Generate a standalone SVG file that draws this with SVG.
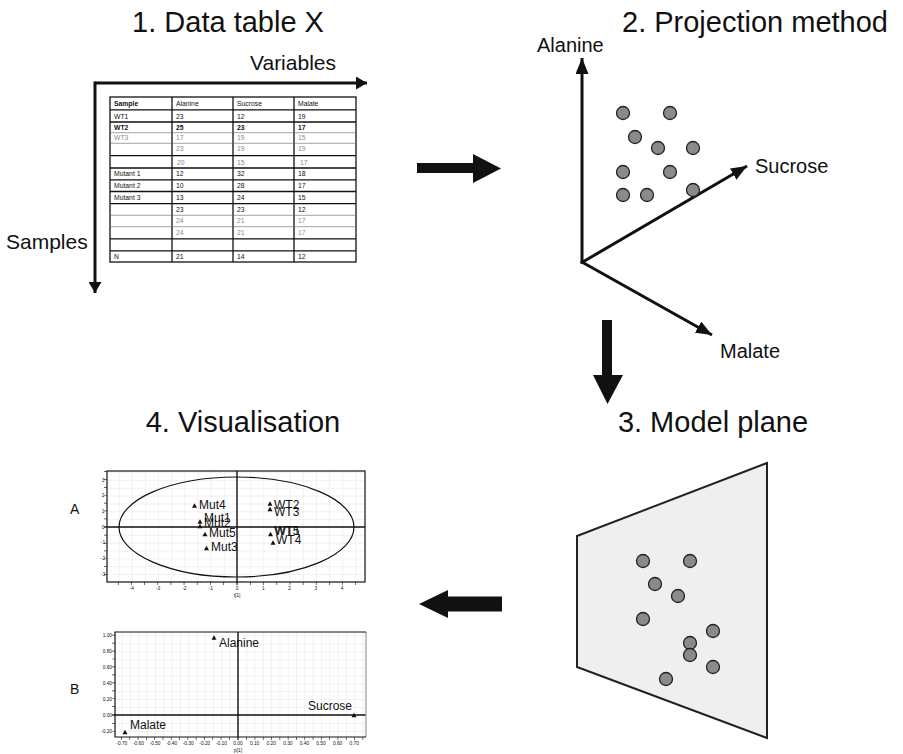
<svg xmlns="http://www.w3.org/2000/svg" xmlns:xlink="http://www.w3.org/1999/xlink" width="903" height="754" viewBox="0 0 903 754">
  <style>
    text { font-family: "Liberation Sans", Arial, sans-serif; fill: #111; }
    .title { font-size: 29px; text-anchor: middle; }
    .axlab { font-size: 20px; }
    .axbig { font-size: 21px; }
    .cell { font-size: 6.8px; }
    .dim { fill: #8a8a8a; }
    .hdr { font-weight: bold; }
    .bold { font-weight: bold; }
    .tbl { stroke: #111; stroke-width: 1.3; fill: none; }
    .thin { stroke: #666; stroke-width: 0.6; }
    .dot { fill: #8a8a8a; stroke: #222; stroke-width: 1.3; }
    .axis3d { stroke: #111; stroke-width: 3; fill: none; }
    .big { fill: #111; }
    .tick { font-size: 4.8px; fill: #666; }
    .pt { font-size: 12px; }
    .frame { fill: none; stroke: #111; stroke-width: 1.2; }
    .zero { stroke: #111; stroke-width: 1.4; }
  </style>
  <defs>
    <marker id="head" viewBox="0 0 16 13" refX="16" refY="6.5" markerWidth="16" markerHeight="13" markerUnits="userSpaceOnUse" orient="auto">
      <path d="M0,0 L16,6.5 L0,13 z" fill="#111"/>
    </marker>
    <marker id="headS" viewBox="0 0 11 13" refX="11" refY="6.5" markerWidth="11" markerHeight="13" markerUnits="userSpaceOnUse" orient="auto">
      <path d="M0,0 L11,6.5 L0,13 z" fill="#111"/>
    </marker>
    <pattern id="gridA" patternUnits="userSpaceOnUse" x="237" y="527" width="13.15" height="7.85">
      <path d="M0,0 V7.85 M0,0 H13.15" stroke="#e2e2e2" stroke-width="0.9" fill="none"/>
    </pattern>
    <pattern id="gridB" patternUnits="userSpaceOnUse" x="238" y="715" width="8.3" height="7.95">
      <path d="M0,0 V7.95 M0,0 H8.3" stroke="#e2e2e2" stroke-width="0.9" fill="none"/>
    </pattern>
    <path id="tri" d="M0,-2.7 L2.5,1.7 L-2.5,1.7 z" fill="#111"/>
  </defs>

  <rect width="903" height="754" fill="#fff"/>

  <!-- section titles -->
  <g id="titles">
    <text class="title" x="228" y="32">1. Data table X</text>
    <text class="title" x="755" y="32">2. Projection method</text>
    <text class="title" x="243" y="432">4. Visualisation</text>
    <text class="title" x="713" y="432">3. Model plane</text>
  </g>

  <!-- 1. data table with variable / sample axes -->
  <g id="data-table">
    <line class="axis3d" x1="95" y1="83" x2="367" y2="83" marker-end="url(#headS)"/>
    <line class="axis3d" x1="95" y1="81.5" x2="95" y2="293" marker-end="url(#headS)"/>
    <text class="axbig" x="250" y="70">Variables</text>
    <text class="axbig" x="6" y="249">Samples</text>

    <rect class="tbl" x="110" y="97" width="246" height="165"/>
    <path class="tbl" d="M172,97 V262 M233,97 V262 M294,97 V262"/>
    <path class="tbl" d="M110,109.8 H356 M110,122 H356 M110,155.7 H356 M110,168 H356 M110,179.8 H356 M110,191.5 H356 M110,203.7 H356 M110,238.8 H356 M110,250.8 H356"/>
    <path class="thin" d="M110,132.7 H356 M110,143.3 H356 M110,215.3 H356 M110,226.7 H356"/>

    <g class="cell">
      <text class="hdr" x="114" y="105.5">Sample</text><text x="176" y="105.5">Alanine</text><text x="237" y="105.5">Sucrose</text><text x="298" y="105.5">Malate</text>
      <text x="114" y="118.5">WT1</text><text x="176" y="118.5">23</text><text x="237" y="118.5">12</text><text x="298" y="118.5">19</text>
      <text class="bold" x="114" y="130">WT2</text><text class="bold" x="176" y="130">25</text><text class="bold" x="237" y="130">23</text><text class="bold" x="298" y="130">17</text>
      <text class="dim" x="114" y="140">WT3</text><text class="dim" x="176" y="140">17</text><text class="dim" x="237" y="140">19</text><text class="dim" x="298" y="140">15</text>
      <text class="dim" x="176" y="151.3">23</text><text class="dim" x="237" y="151.3">19</text><text class="dim" x="298" y="151.3">19</text>
      <text class="dim" x="177" y="164.6">20</text><text class="dim" x="237" y="164.6">15</text><text class="dim" x="300" y="164.6">17</text>
      <text x="114" y="176.3">Mutant 1</text><text x="176" y="176.3">12</text><text x="237" y="176.3">32</text><text x="298" y="176.3">18</text>
      <text x="114" y="188">Mutant 2</text><text x="176" y="188">10</text><text x="237" y="188">28</text><text x="298" y="188">17</text>
      <text x="114" y="199.6">Mutant 3</text><text x="176" y="199.6">13</text><text x="237" y="199.6">24</text><text x="298" y="199.6">15</text>
      <text x="176" y="212.3">23</text><text x="237" y="212.3">23</text><text x="298" y="212.3">12</text>
      <text class="dim" x="176" y="223">24</text><text class="dim" x="237" y="223">21</text><text class="dim" x="298" y="223">17</text>
      <text class="dim" x="176" y="235">24</text><text class="dim" x="237" y="235">21</text><text class="dim" x="298" y="235">17</text>
      <text x="114" y="259">N</text><text x="176" y="259">21</text><text x="237" y="259">14</text><text x="298" y="259">12</text>
    </g>
  </g>

  <!-- 2. three-variable space with sample points -->
  <g id="projection">
    <line class="axis3d" x1="582" y1="263.5" x2="582" y2="58" marker-end="url(#head)"/>
    <line class="axis3d" x1="581" y1="263" x2="747" y2="166" marker-end="url(#head)"/>
    <line class="axis3d" x1="581" y1="261.5" x2="712" y2="335" marker-end="url(#head)"/>
    <text class="axlab" x="537" y="52">Alanine</text>
    <text class="axlab" x="755" y="173">Sucrose</text>
    <text class="axlab" x="720" y="358">Malate</text>
    <circle class="dot" cx="623" cy="113" r="6.5"/>
    <circle class="dot" cx="670" cy="113" r="6.5"/>
    <circle class="dot" cx="635" cy="137" r="6.5"/>
    <circle class="dot" cx="658" cy="148" r="6.5"/>
    <circle class="dot" cx="693" cy="148" r="6.5"/>
    <circle class="dot" cx="623" cy="172" r="6.5"/>
    <circle class="dot" cx="670" cy="172" r="6.5"/>
    <circle class="dot" cx="693" cy="190" r="6.5"/>
    <circle class="dot" cx="623" cy="195" r="6.5"/>
    <circle class="dot" cx="647" cy="195" r="6.5"/>
  </g>

  <!-- 3. model plane -->
  <g id="model-plane">
    <path d="M577,536 L767,463 L767,738 L577,667 z" fill="#eeefee" stroke="#222" stroke-width="2" stroke-linejoin="miter"/>
    <circle class="dot" cx="643" cy="561" r="6.5"/>
    <circle class="dot" cx="690" cy="561" r="6.5"/>
    <circle class="dot" cx="655" cy="584" r="6.5"/>
    <circle class="dot" cx="678" cy="596" r="6.5"/>
    <circle class="dot" cx="643" cy="619" r="6.5"/>
    <circle class="dot" cx="713" cy="631" r="6.5"/>
    <circle class="dot" cx="690" cy="643" r="6.5"/>
    <circle class="dot" cx="690" cy="655" r="6.5"/>
    <circle class="dot" cx="713" cy="667" r="6.5"/>
    <circle class="dot" cx="666" cy="679" r="6.5"/>
  </g>

  <!-- step arrows -->
  <g id="connectors">
    <polygon class="big" points="417,163 473,163 473,154 501,168.5 473,183 473,173 417,173"/>
    <polygon class="big" points="602,320 612,320 612,375 623,375 607.5,404 593,375 602,375"/>
    <polygon class="big" points="502,596.5 448,596.5 448,590 419,604 448,618 448,611.5 502,611.5"/>
  </g>

  <!-- 4a. score plot -->
  <g id="score-plot">
    <text x="70" y="514" font-size="14">A</text>
    <rect x="107" y="471" width="258" height="111" fill="url(#gridA)"/>
    <line x1="105.5" y1="527" x2="105.5" y2="471" stroke="#333" stroke-width="3" stroke-dasharray="0.7 7.15"/>
    <line x1="105.5" y1="527" x2="105.5" y2="582" stroke="#333" stroke-width="3" stroke-dasharray="0.7 7.15"/>
    <line x1="237" y1="583.5" x2="107" y2="583.5" stroke="#333" stroke-width="3" stroke-dasharray="0.7 12.45"/>
    <line x1="237" y1="583.5" x2="365" y2="583.5" stroke="#333" stroke-width="3" stroke-dasharray="0.7 12.45"/>
    <ellipse cx="236.5" cy="527" rx="117.5" ry="50" fill="none" stroke="#111" stroke-width="1.2"/>
    <line class="zero" x1="107" y1="527" x2="365" y2="527"/>
    <line class="zero" x1="237" y1="471" x2="237" y2="582"/>
    <rect class="frame" x="107" y="471" width="258" height="111"/>
    <g class="tick" text-anchor="middle">
      <text x="103" y="481.6">3</text><text x="103" y="497.3">2</text><text x="103" y="513">1</text><text x="103" y="528.7">0</text>
      <text x="103" y="544.4">-1</text><text x="103" y="560.1">-2</text><text x="103" y="575.8">-3</text>
      <text x="131.8" y="590">-4</text><text x="158.1" y="590">-3</text><text x="184.4" y="590">-2</text><text x="210.7" y="590">-1</text>
      <text x="237" y="590">0</text><text x="263.3" y="590">1</text><text x="289.6" y="590">2</text><text x="315.9" y="590">3</text><text x="342.2" y="590">4</text>
      <text x="237" y="597">t[1]</text>
    </g>
    <use xlink:href="#tri" x="194.5" y="506"/><text class="pt" x="199" y="509">Mut4</text>
    <use xlink:href="#tri" x="200" y="522"/><text class="pt" x="204" y="522">Mut1</text>
    <use xlink:href="#tri" x="200" y="526.5"/><text class="pt" x="204" y="527">Mut2</text>
    <use xlink:href="#tri" x="205" y="534.5"/><text class="pt" x="209" y="537">Mut5</text>
    <use xlink:href="#tri" x="206.5" y="548.5"/><text class="pt" x="211" y="551">Mut3</text>
    <use xlink:href="#tri" x="270" y="504"/><text class="pt" x="274" y="509">WT2</text>
    <use xlink:href="#tri" x="270" y="509.5"/><text class="pt" x="274" y="516">WT3</text>
    <use xlink:href="#tri" x="270.5" y="534.5"/><text class="pt" x="274" y="535">WT5</text><text class="pt" x="274.8" y="535">WT1</text>
    <use xlink:href="#tri" x="273" y="543"/><text class="pt" x="276" y="544">WT4</text>
  </g>

  <!-- 4b. loading plot -->
  <g id="loading-plot">
    <text x="70" y="694" font-size="14">B</text>
    <rect x="115" y="632" width="251" height="105" fill="url(#gridB)"/>
    <line x1="113.5" y1="715" x2="113.5" y2="632" stroke="#333" stroke-width="3" stroke-dasharray="0.7 7.25"/>
    <line x1="113.5" y1="715" x2="113.5" y2="737" stroke="#333" stroke-width="3" stroke-dasharray="0.7 7.25"/>
    <line x1="238" y1="738.5" x2="115" y2="738.5" stroke="#333" stroke-width="3" stroke-dasharray="0.7 7.6"/>
    <line x1="238" y1="738.5" x2="366" y2="738.5" stroke="#333" stroke-width="3" stroke-dasharray="0.7 7.6"/>
    <line class="zero" x1="115" y1="715" x2="366" y2="715"/>
    <line class="zero" x1="238" y1="632" x2="238" y2="737"/>
    <path d="M366,632 V737" stroke="#999" stroke-width="1.2"/>
    <path d="M366,632 H115 V737 H366" fill="none" stroke="#111" stroke-width="1.2"/>
    <g class="tick" text-anchor="end">
      <text x="112" y="637.2">1.00</text><text x="112" y="653.1">0.80</text><text x="112" y="669">0.60</text><text x="112" y="684.9">0.40</text>
      <text x="112" y="700.8">0.20</text><text x="112" y="716.7">0.00</text><text x="112" y="732.6">-0.20</text>
    </g>
    <g class="tick" text-anchor="middle">
      <text x="121.8" y="745">-0.70</text><text x="138.4" y="745">-0.60</text><text x="155" y="745">-0.50</text><text x="171.6" y="745">-0.40</text>
      <text x="188.2" y="745">-0.30</text><text x="204.8" y="745">-0.20</text><text x="221.4" y="745">-0.10</text><text x="238" y="745">0.00</text>
      <text x="254.6" y="745">0.10</text><text x="271.2" y="745">0.20</text><text x="287.8" y="745">0.30</text><text x="304.4" y="745">0.40</text>
      <text x="321" y="745">0.50</text><text x="337.6" y="745">0.60</text><text x="354.2" y="745">0.70</text>
      <text x="238" y="752">p[1]</text>
    </g>
    <use xlink:href="#tri" x="214" y="638"/><text class="pt" x="219" y="647">Alanine</text>
    <use xlink:href="#tri" x="125" y="732.5"/><text class="pt" x="130" y="729">Malate</text>
    <use xlink:href="#tri" x="354" y="715.5"/><text class="pt" x="308" y="710">Sucrose</text>
  </g>
</svg>
